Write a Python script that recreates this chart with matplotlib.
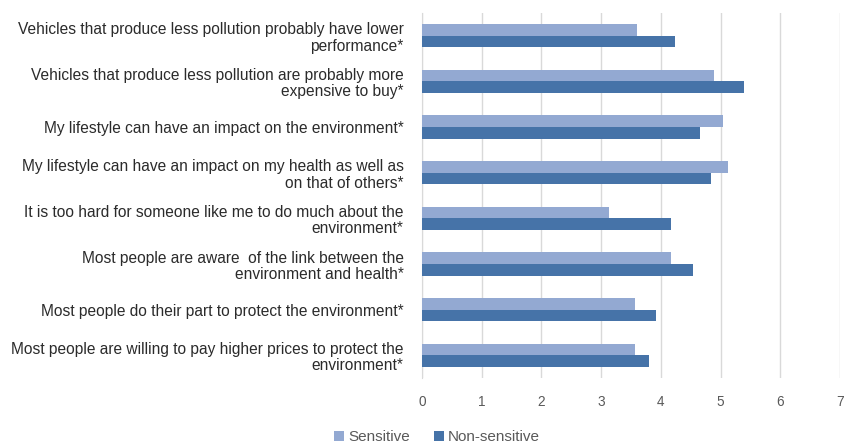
import matplotlib
matplotlib.use("Agg")
import matplotlib.pyplot as plt
import numpy as np

statements = [
    "Vehicles that produce less pollution probably have lower\nperformance*",
    "Vehicles that produce less pollution are probably more\nexpensive to buy*",
    "My lifestyle can have an impact on the environment*",
    "My lifestyle can have an impact on my health as well as\non that of others*",
    "It is too hard for someone like me to do much about the\nenvironment*",
    "Most people are aware  of the link between the\nenvironment and health*",
    "Most people do their part to protect the environment*",
    "Most people are willing to pay higher prices to protect the\nenvironment*",
]
sensitive = [3.60, 4.89, 5.04, 5.12, 3.14, 4.17, 3.56, 3.56]
non_sensitive = [4.24, 5.39, 4.66, 4.84, 4.17, 4.54, 3.92, 3.80]
x_ticks = [0, 1, 2, 3, 4, 5, 6, 7]

plt.rcParams["font.family"] = ["Liberation Sans", "DejaVu Sans"]

fig = plt.figure(figsize=(8.59, 4.46), dpi=100)
ax = fig.add_axes([0.491, 0.152, 0.487, 0.819])

y = np.arange(len(statements))
h = 0.257
c_sens = "#93A9D2"
c_non = "#4673A8"
ax.barh(y - h / 2, sensitive, height=h, color=c_sens, label="Sensitive", zorder=3)
ax.barh(y + h / 2, non_sensitive, height=h, color=c_non, label="Non-sensitive", zorder=3)

ax.set_ylim(len(statements) - 0.5, -0.5)
ax.set_xlim(0, 7)
ax.set_xticks(x_ticks)
ax.set_xticklabels([str(t) for t in x_ticks], color="#595959", fontsize=9.8)
ax.set_yticks(y)
ax.set_yticklabels(statements, fontsize=11.2, color="#2b2b2b", linespacing=1.12)
ax.tick_params(axis="both", length=0)
ax.tick_params(axis="x", pad=12)
ax.tick_params(axis="y", pad=13)

ax.grid(axis="x", color="#D9D9D9", linewidth=1.0, zorder=0)
for s in ["top", "right", "bottom"]:
    ax.spines[s].set_visible(False)
ax.spines["left"].set_color("#D9D9D9")
ax.spines["left"].set_zorder(1)

leg = fig.legend(
    loc="center", bbox_to_anchor=(437 / 859, 1 - 437 / 446), ncol=2, frameon=False,
    fontsize=11, handlelength=0.65, handleheight=0.65, handletextpad=0.25,
    columnspacing=1.6,
)
for t in leg.get_texts():
    t.set_color("#595959")

fig.savefig("out.png", dpi=100)
